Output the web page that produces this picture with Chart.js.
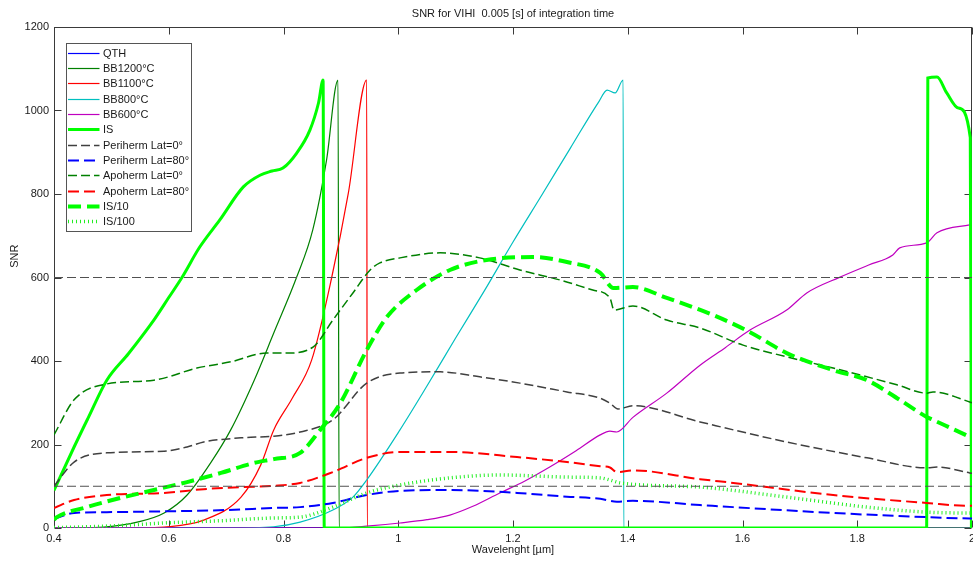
<!DOCTYPE html>
<html>
<head>
<meta charset="utf-8">
<script src="https://cdn.jsdelivr.net/npm/chart.js@4/dist/chart.umd.min.js"></script>
<style>
  html, body { margin: 0; padding: 0; background: #ffffff; }
  #wrap { width: 973px; height: 562px; }
</style>
</head>
<body>
<div id="wrap"><canvas id="c" width="973" height="562"></canvas></div>
<script>
// ---------------- DATA ----------------
const chartTitle = 'SNR for VIHI  0.005 [s] of integration time';
const xAxisTitle = 'Wavelenght [µm]';
const yAxisTitle = 'SNR';

const xTickValues = [0.4, 0.6, 0.8, 1.0, 1.2, 1.4, 1.6, 1.8, 2.0];
const xTickLabels = ['0.4', '0.6', '0.8', '1', '1.2', '1.4', '1.6', '1.8', '2'];
const yTickValues = [0, 200, 400, 600, 800, 1000, 1200];
const yTickLabels = ['0', '200', '400', '600', '800', '1000', '1200'];

const seriesNames = ['QTH', 'BB1200°C', 'BB1100°C', 'BB800°C', 'BB600°C', 'IS',
  'Periherm Lat=0°', 'Periherm Lat=80°', 'Apoherm Lat=0°', 'Apoherm Lat=80°', 'IS/10', 'IS/100'];

// requirement levels (dashed horizontal lines)
const requirementLevels = [600, 100];

const wlQTH = [0.400, 2.000];
const snrQTH = [0, 0];

const wlBB1200 = [0.400, 0.450, 0.487, 0.545, 0.592, 0.632, 0.673, 0.708, 0.749, 0.783, 0.823, 0.851, 0.875, 0.895, 0.897, 2.000];
const snrBB1200 = [0, 0, 2, 14, 36, 79, 156, 235, 354, 467, 601, 714, 881, 1073, 0, 0];

const wlBB1100 = [0.400, 0.550, 0.592, 0.661, 0.726, 0.760, 0.783, 0.815, 0.849, 0.884, 0.913, 0.945, 0.946, 2.000];
const snrBB1100 = [0, 0, 2, 19, 74, 150, 235, 310, 402, 600, 802, 1073, 0, 0];

const wlBB800 = [0.400, 0.700, 0.783, 0.829, 0.886, 0.921, 0.945, 1.003, 1.050, 1.100, 1.150, 1.200, 1.250, 1.300, 1.350, 1.364, 1.378, 1.392, 1.393, 2.000];
const snrBB800 = [0, 0, 3, 14, 43, 74, 115, 235, 340, 455, 568, 685, 797, 910, 1022, 1049, 1042, 1073, 0, 0];

const wlBB600 = [0.400, 0.900, 0.950, 1.003, 1.050, 1.090, 1.130, 1.177, 1.220, 1.264, 1.310, 1.352, 1.369, 1.381, 1.409, 1.468, 1.526, 1.570, 1.613, 1.677, 1.712, 1.770, 1.820, 1.862, 1.874, 1.921, 1.939, 1.996, 2.000];
const snrBB600 = [0, 0, 5, 12, 20, 31, 52, 84, 112, 146, 185, 223, 232, 230, 265, 323, 390, 432, 474, 522, 563, 601, 630, 654, 671, 683, 707, 726, 727];

const wlIS = [0.400, 0.435, 0.460, 0.492, 0.530, 0.574, 0.600, 0.623, 0.654, 0.689, 0.730, 0.759, 0.780, 0.799, 0.823, 0.846, 0.861, 0.869, 0.871, 1.921, 1.923, 1.939, 1.956, 1.976, 1.997, 1.999];
const snrIS = [90, 194, 265, 354, 418, 498, 552, 600, 673, 738, 817, 845, 855, 862, 898, 953, 1018, 1073, 0, 0, 1078, 1080, 1042, 1006, 935, 0];

const wlPeri0 = [0.400, 0.435, 0.492, 0.592, 0.632, 0.661, 0.726, 0.783, 0.829, 0.886, 0.945, 1.003, 1.073, 1.142, 1.212, 1.294, 1.352, 1.369, 1.383, 1.409, 1.526, 1.677, 1.817, 1.921, 1.939, 1.996, 2.000];
const snrPeri0 = [100, 158, 180, 184, 194, 206, 216, 220, 230, 259, 347, 371, 374, 362, 347, 326, 311, 299, 285, 293, 254, 206, 168, 144, 146, 132, 131];

const wlPeri80 = [0.400, 0.435, 0.492, 0.600, 0.700, 0.783, 0.829, 0.886, 0.945, 1.003, 1.090, 1.207, 1.294, 1.352, 1.381, 1.409, 1.526, 1.584, 1.758, 1.921, 1.996, 2.000];
const snrPeri80 = [22, 36, 38, 40, 43, 48, 50, 60, 79, 89, 91, 84, 75, 70, 63, 65, 55, 50, 36, 26, 23, 23];

const wlApo0 = [0.400, 0.435, 0.492, 0.574, 0.649, 0.708, 0.771, 0.806, 0.852, 0.886, 0.921, 0.951, 0.968, 1.003, 1.073, 1.142, 1.212, 1.282, 1.339, 1.369, 1.376, 1.409, 1.468, 1.526, 1.601, 1.677, 1.758, 1.869, 1.921, 1.932, 1.996, 2.000];
const snrApo0 = [223, 307, 345, 354, 383, 398, 419, 419, 434, 498, 563, 618, 635, 647, 659, 647, 618, 594, 570, 551, 522, 532, 498, 479, 438, 410, 383, 343, 323, 326, 302, 300];

const wlApo80 = [0.400, 0.435, 0.492, 0.592, 0.661, 0.726, 0.783, 0.829, 0.886, 0.945, 1.003, 1.090, 1.207, 1.294, 1.352, 1.369, 1.381, 1.409, 1.526, 1.584, 1.758, 1.921, 1.996, 2.000];
const snrApo80 = [48, 67, 79, 84, 93, 98, 101, 108, 134, 168, 182, 182, 170, 158, 148, 145, 134, 138, 117, 108, 79, 60, 53, 53];

const wlIS10 = [0.400, 0.405, 0.457, 0.516, 0.574, 0.632, 0.691, 0.749, 0.783, 0.829, 0.864, 0.899, 0.945, 0.980, 1.032, 1.090, 1.154, 1.235, 1.294, 1.352, 1.375, 1.409, 1.468, 1.549, 1.613, 1.677, 1.758, 1.817, 1.874, 1.921, 1.932, 1.996, 2.000];
const snrIS10 = [20, 26, 50, 72, 91, 110, 132, 156, 165, 180, 235, 299, 426, 505, 570, 618, 642, 649, 637, 611, 575, 577, 551, 510, 469, 419, 378, 354, 307, 266, 259, 218, 215];

const wlIS100 = [0.400, 0.435, 0.500, 0.592, 0.700, 0.783, 0.829, 0.886, 0.945, 1.003, 1.090, 1.177, 1.294, 1.352, 1.369, 1.387, 1.526, 1.677, 1.817, 1.921, 1.996, 2.000];
const snrIS100 = [1, 2, 5, 12, 18, 24, 26, 50, 84, 103, 120, 127, 122, 120, 115, 108, 98, 74, 50, 38, 36, 36];

// ---------------- BUILD ----------------
const FONT = "'Liberation Sans', Arial, Helvetica, sans-serif";
const TEXT = '#1a1a1a';

function pts(xs, ys) { return xs.map((x, i) => ({ x: x, y: ys[i] })); }

const seriesData = [
  [wlQTH, snrQTH], [wlBB1200, snrBB1200], [wlBB1100, snrBB1100], [wlBB800, snrBB800], [wlBB600, snrBB600], [wlIS, snrIS],
  [wlPeri0, snrPeri0], [wlPeri80, snrPeri80], [wlApo0, snrApo0], [wlApo80, snrApo80], [wlIS10, snrIS10], [wlIS100, snrIS100]
];

const seriesStyles = [
  { color: '#0000ff', width: 1.2, dash: [] },
  { color: '#008000', width: 1.2, dash: [] },
  { color: '#ff0000', width: 1.2, dash: [] },
  { color: '#00bfbf', width: 1.2, dash: [] },
  { color: '#bf00bf', width: 1.2, dash: [] },
  { color: '#00ff00', width: 3, dash: [] },
  { color: '#404040', width: 1.5, dash: [9, 4] },
  { color: '#0000ff', width: 2, dash: [11, 5] },
  { color: '#008000', width: 1.5, dash: [9, 4] },
  { color: '#ff0000', width: 2, dash: [11, 5] },
  { color: '#00ff00', width: 4, dash: [13, 6] },
  { color: '#22ee22', width: 3.5, dash: [1, 3] }
];

const N = seriesNames.length;
const datasets = seriesNames.map((name, i) => ({
  label: name,
  data: pts(seriesData[i][0], seriesData[i][1]),
  borderColor: seriesStyles[i].color,
  backgroundColor: seriesStyles[i].color,
  borderWidth: seriesStyles[i].width,
  borderDash: seriesStyles[i].dash,
  pointRadius: 0,
  fill: false,
  cubicInterpolationMode: 'monotone',
  order: N + 2 - i,
  inLegend: true
}));

requirementLevels.forEach((lvl) => {
  datasets.push({
    label: '',
    data: pts([xTickValues[0], xTickValues[xTickValues.length - 1]], [lvl, lvl]),
    borderColor: '#505050',
    borderWidth: 1,
    borderDash: [9, 4],
    pointRadius: 0,
    fill: false,
    order: 0,
    inLegend: false
  });
});

// Axes box with inward ticks on all four sides (MATLAB style)
const axesBoxPlugin = {
  id: 'axesBox',
  beforeDatasetsDraw(chart) {
    const { ctx, chartArea: a, scales } = chart;
    const L = Math.round(a.left) + 0.5, R = Math.round(a.right) - 0.5;
    const T = Math.round(a.top) + 0.5, B = Math.round(a.bottom) - 0.5;
    const tl = 7;
    ctx.save();
    ctx.strokeStyle = '#3a3a3a';
    ctx.lineWidth = 1;
    ctx.setLineDash([]);
    ctx.strokeRect(L, T, R - L, B - T);
    ctx.beginPath();
    xTickValues.forEach((v) => {
      const px = Math.round(scales.x.getPixelForValue(v)) + 0.5;
      ctx.moveTo(px, B); ctx.lineTo(px, B - tl);
      ctx.moveTo(px, T); ctx.lineTo(px, T + tl);
    });
    yTickValues.forEach((v) => {
      const py = Math.round(scales.y.getPixelForValue(v)) + 0.5;
      ctx.moveTo(L, py); ctx.lineTo(L + tl, py);
      ctx.moveTo(R, py); ctx.lineTo(R - tl, py);
    });
    ctx.stroke();
    ctx.restore();
  }
};

// MATLAB-style boxed legend inside the axes (upper left)
const boxLegendPlugin = {
  id: 'boxLegend',
  afterDatasetsDraw(chart) {
    const { ctx, chartArea: a } = chart;
    const items = chart.data.datasets.filter((d) => d.inLegend);
    const left = Math.round(a.left) + 12.5, top = Math.round(a.top) + 16.5;
    const w = 125, rowH = 15.3, firstRow = 9.3;
    const h = 188;
    ctx.save();
    ctx.fillStyle = '#ffffff';
    ctx.fillRect(left, top, w, h);
    ctx.strokeStyle = '#555555';
    ctx.lineWidth = 1;
    ctx.setLineDash([]);
    ctx.strokeRect(left, top, w, h);
    ctx.font = '11px ' + FONT;
    ctx.textBaseline = 'middle';
    ctx.textAlign = 'left';
    items.forEach((d, i) => {
      const cy = Math.round(top + firstRow + i * rowH) + 0.5;
      ctx.beginPath();
      ctx.strokeStyle = d.borderColor;
      ctx.lineWidth = d.borderWidth;
      ctx.setLineDash(d.borderDash || []);
      ctx.moveTo(left + 1.5, cy);
      ctx.lineTo(left + 33, cy);
      ctx.stroke();
      ctx.setLineDash([]);
      ctx.fillStyle = TEXT;
      ctx.fillText(d.label, left + 36.5, cy);
    });
    ctx.restore();
  }
};

function labelFor(values, labels, v) {
  let best = 0;
  values.forEach((t, i) => { if (Math.abs(t - v) < Math.abs(values[best] - v)) best = i; });
  return labels[best];
}

const padSpaces = '              ';

new Chart(document.getElementById('c'), {
  type: 'line',
  data: { datasets: datasets },
  plugins: [axesBoxPlugin, boxLegendPlugin],
  options: {
    responsive: false,
    animation: false,
    devicePixelRatio: 1,
    events: [],
    layout: { padding: { left: 0, right: 1, top: 0, bottom: 0 } },
    plugins: {
      legend: { display: false },
      tooltip: { enabled: false },
      title: {
        display: true,
        text: chartTitle,
        fullSize: false,
        color: TEXT,
        font: { family: FONT, size: 11, weight: 'normal' },
        padding: { top: 7, bottom: 6.8 }
      }
    },
    scales: {
      x: {
        type: 'linear',
        position: 'bottom',
        min: 0.4,
        max: 2.0,
        grid: { display: false, drawTicks: false },
        border: { display: false },
        afterBuildTicks: (s) => { s.ticks = xTickValues.map((v) => ({ value: v })); },
        afterFit: (s) => { s.height = 34; s.paddingRight = 0; s.paddingLeft = 0; },
        ticks: {
          autoSkip: false, maxRotation: 0, padding: 4,
          color: TEXT,
          font: { family: FONT, size: 11 },
          callback: (v) => labelFor(xTickValues, xTickLabels, v)
        },
        title: {
          display: true, text: xAxisTitle, color: TEXT,
          font: { family: FONT, size: 11 },
          padding: { top: 0, bottom: 5 }
        }
      },
      y: {
        type: 'linear',
        position: 'left',
        min: 0,
        max: 1200,
        grid: { display: false, drawTicks: false },
        border: { display: false },
        afterBuildTicks: (s) => { s.ticks = yTickValues.map((v) => ({ value: v })); },
        afterFit: (s) => { s.width = 54; },
        ticks: {
          autoSkip: false, padding: 5,
          color: TEXT,
          font: { family: FONT, size: 11 },
          callback: (v) => labelFor(yTickValues, yTickLabels, v)
        },
        title: {
          display: true, text: padSpaces + yAxisTitle, color: TEXT,
          font: { family: FONT, size: 11 },
          padding: { top: 8, bottom: 0 }
        }
      }
    }
  }
});
</script>
</body>
</html>
